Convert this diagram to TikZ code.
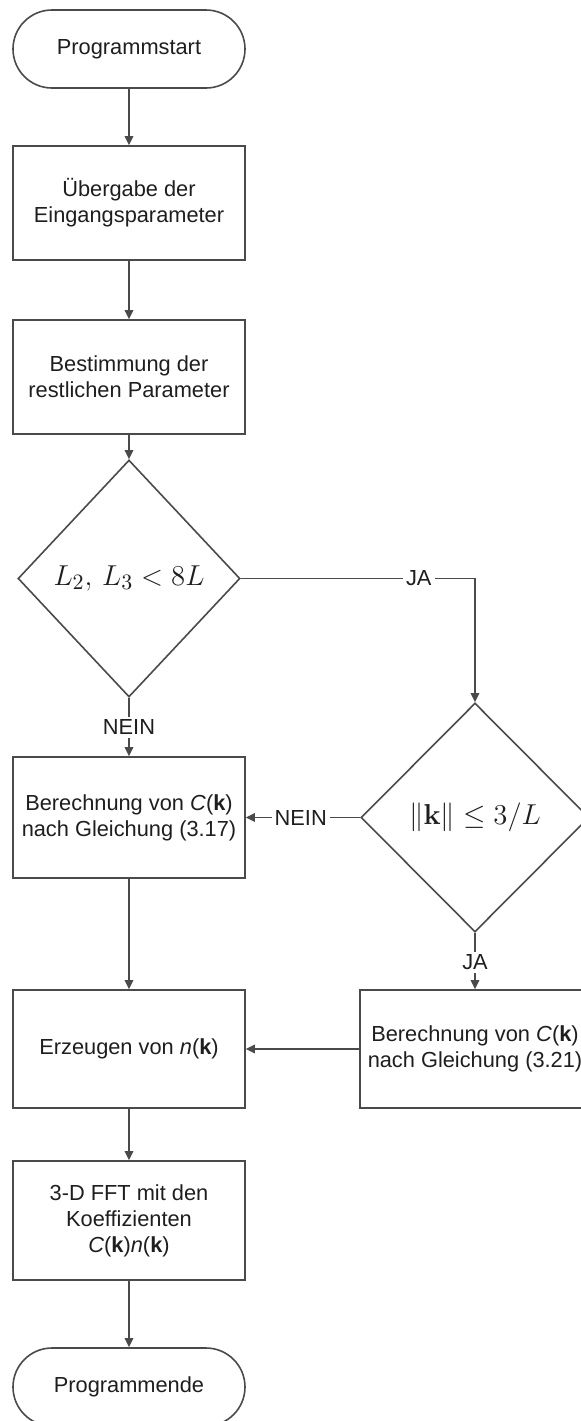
\documentclass[tikz,border=0pt]{standalone}
\usepackage[no-math]{fontspec}
\setmainfont{Liberation Sans}
\usetikzlibrary{shapes.geometric,arrows.meta}
\definecolor{linec}{HTML}{4A4A4A}
\definecolor{txt}{HTML}{1E1E1E}
\begin{document}
\begin{tikzpicture}[x=0.5pt,y=-0.5pt,
  font=\fontsize{10.9pt}{13pt}\selectfont,
  line/.style={draw=linec, line width=0.8pt},
  term/.style={line, rounded corners=19.5pt, minimum width=116pt, minimum height=39pt, inner sep=0pt, text=txt},
  proc/.style={line, minimum width=116pt, align=center, inner sep=0pt, text=txt},
  decision/.style={line, diamond, aspect=1, inner sep=0pt, text=txt},
  flow/.style={line, -{Triangle[length=4.5pt,width=4.2pt]}},
  lbl/.style={fill=white, inner sep=1.5pt, text=txt}
]
\useasboundingbox (0,0) rectangle (581,1421);

% main column
\node[term] (start) at (129,49) {Programmstart};
\node[proc, minimum height=57pt] (input) at (129,203) {Übergabe der\\Eingangsparameter};
\node[proc, minimum height=57pt] (params) at (129,377) {Bestimmung der\\restlichen Parameter};
\node[decision, font=\fontsize{15.5pt}{18pt}\selectfont, minimum width=111pt, minimum height=118.5pt] (dec1) at (129,578.5) {$L_2,\,L_3<8L$};
\node[proc, minimum height=60.5pt] (c317) at (129,817.5) {Berechnung von \textit{C}(\textbf{k})\\nach Gleichung (3.17)};
\node[proc, minimum height=59pt] (noise) at (129,1049) {Erzeugen von \textit{n}(\textbf{k})};
\node[proc, minimum height=59.5pt] (fft) at (129,1220.5) {3-D FFT mit den\\Koeffizienten\\\textit{C}(\textbf{k})\textit{n}(\textbf{k})};
\node[term] (end) at (129,1387) {Programmende};

% right branch
\node[decision, font=\fontsize{14.3pt}{17pt}\selectfont, minimum width=114pt, minimum height=114.5pt] (dec2) at (475,817.5) {$\|\mathbf{k}\|\le 3/L$};
\node[proc, minimum width=115pt, minimum height=59pt] (c321) at (475,1049) {Berechnung von \textit{C}(\textbf{k})\\nach Gleichung (3.21)};

% connectors
\draw[flow] (start) -- (input);
\draw[flow] (input) -- (params);
\draw[flow] (params) -- (dec1);
\draw[flow] (dec1) -- node[lbl]{NEIN} (c317);
\draw[flow] (dec1.east) -| node[lbl, pos=0.38]{JA} (dec2.north);
\draw[flow] (dec2) -- node[lbl, pos=0.52]{NEIN} (c317);
\draw[flow] (dec2) -- node[lbl, pos=0.52]{JA} (c321);
\draw[flow] (c321) -- (noise);
\draw[flow] (c317) -- (noise);
\draw[flow] (noise) -- (fft);
\draw[flow] (fft) -- (end);
\end{tikzpicture}
\end{document}
